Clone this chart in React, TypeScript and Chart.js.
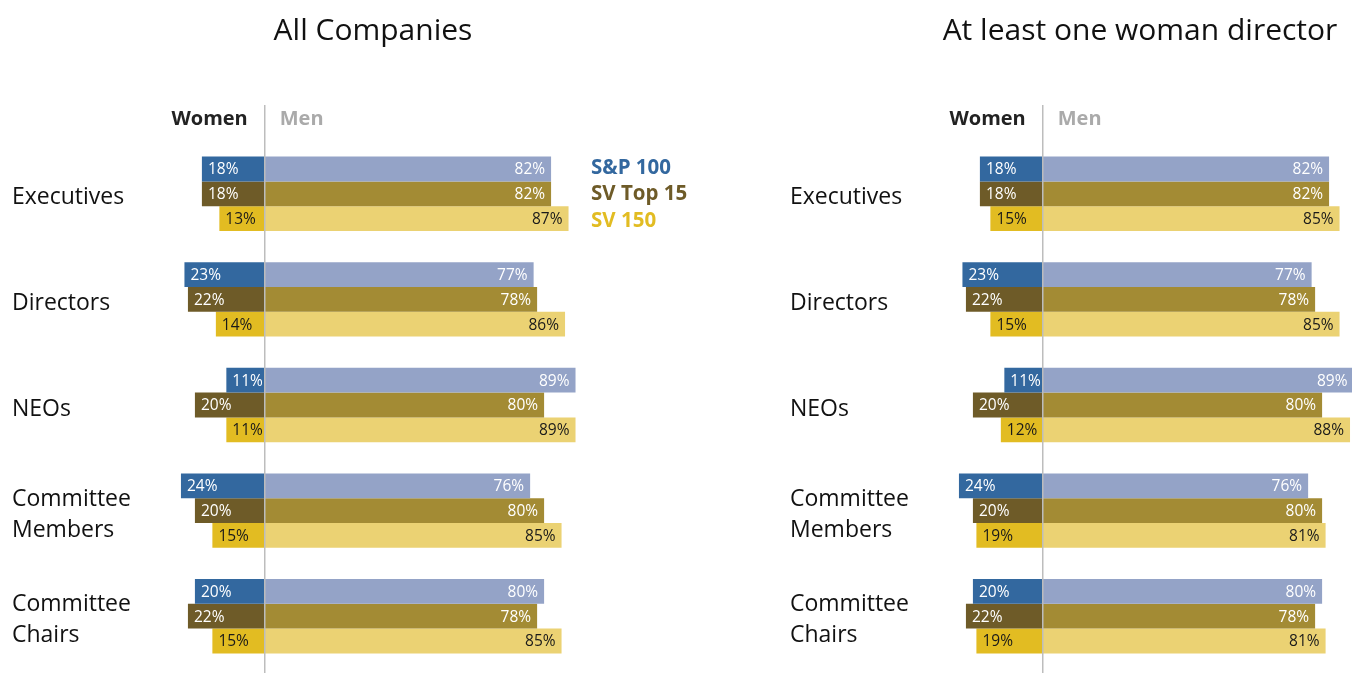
import React, { useEffect, useRef } from "react";
import { Chart, registerables } from "chart.js";

Chart.register(...registerables);

const categories: (string | string[])[] = [
  "Executives",
  "Directors",
  "NEOs",
  ["Committee", "Members"],
  ["Committee", "Chairs"],
];

const seriesNames = ["S&P 100", "SV Top 15", "SV 150"];

// All companies
const spWomenAll = [18, 23, 11, 24, 20];
const spMenAll = [82, 77, 89, 76, 80];
const sv15WomenAll = [18, 22, 20, 20, 22];
const sv15MenAll = [82, 78, 80, 80, 78];
const sv150WomenAll = [13, 14, 11, 15, 15];
const sv150MenAll = [87, 86, 89, 85, 85];

// At least one woman director
const spWomenW = [18, 23, 11, 24, 20];
const spMenW = [82, 77, 89, 76, 80];
const sv15WomenW = [18, 22, 20, 20, 22];
const sv15MenW = [82, 78, 80, 80, 78];
const sv150WomenW = [15, 15, 12, 19, 19];
const sv150MenW = [85, 85, 88, 81, 81];

const womenColors = ["#33689f", "#6e5b28", "#e2bc22"];
const menColors = ["#94a3c7", "#a38b34", "#ebd273"];
const labelColors = ["#ffffff", "#ffffff", "#1a1a1a"];
const legendColors = ["#33689f", "#6e5b28", "#e2bc22"];

const FONT = "'Open Sans', 'Noto Sans', sans-serif";

type PanelProps = {
  title: string;
  titleX: number;
  left: number;
  women: number[][];
  men: number[][];
  showLegend: boolean;
};

function Panel({ title, titleX, left, women, men, showLegend }: PanelProps) {
  const ref = useRef<HTMLCanvasElement | null>(null);

  useEffect(() => {
    if (!ref.current) return;
    const stacks = ["sp", "sv15", "sv150"];
    const datasets: any[] = [];
    for (let s = 0; s < 3; s++) {
      datasets.push({
        label: seriesNames[s] + " Women",
        data: women[s].map((v) => -v),
        backgroundColor: womenColors[s],
        stack: stacks[s],
        borderWidth: 0,
        barPercentage: 1,
        categoryPercentage: 0.705,
        _series: s,
        _side: "w",
      });
      datasets.push({
        label: seriesNames[s] + " Men",
        data: men[s],
        backgroundColor: menColors[s],
        stack: stacks[s],
        borderWidth: 0,
        barPercentage: 1,
        categoryPercentage: 0.705,
        _series: s,
        _side: "m",
      });
    }

    const decor = {
      id: "decor",
      afterDatasetsDraw(chart: any) {
        const ctx = chart.ctx;
        const xs = chart.scales.x;
        const ys = chart.scales.y;
        ctx.save();
        // value labels
        ctx.font = `15.5px ${FONT}`;
        ctx.textBaseline = "middle";
        chart.data.datasets.forEach((ds: any, di: number) => {
          const meta = chart.getDatasetMeta(di);
          meta.data.forEach((el: any, i: number) => {
            const v = Math.abs(ds.data[i]);
            ctx.fillStyle = labelColors[ds._series];
            const txt = v + "%";
            if (ds._side === "w") {
              ctx.textAlign = "left";
              ctx.fillText(txt, Math.min(el.x, el.base) + 6, el.y + 1);
            } else {
              ctx.textAlign = "right";
              ctx.fillText(txt, Math.max(el.x, el.base) - 6, el.y + 1);
            }
          });
        });
        // zero line
        const zx = xs.getPixelForValue(0);
        ctx.strokeStyle = "#bdbdbd";
        ctx.lineWidth = 1.5;
        ctx.beginPath();
        ctx.moveTo(zx, 105);
        ctx.lineTo(zx, chart.height);
        ctx.stroke();
        // category labels
        ctx.fillStyle = "#111";
        ctx.font = `23px ${FONT}`;
        ctx.textAlign = "left";
        categories.forEach((c, i) => {
          const cy = ys.getPixelForValue(i);
          const lines = Array.isArray(c) ? c : [c];
          const lh = 31;
          lines.forEach((ln, li) => {
            const y = cy + (li - (lines.length - 1) / 2) * lh + 4;
            ctx.fillText(ln, 12, y);
          });
        });
        // title
        ctx.font = `30px ${FONT}`;
        ctx.textAlign = "center";
        ctx.fillStyle = "#111";
        ctx.fillText(title, titleX, 31);
        // headers
        ctx.font = `bold 20px ${FONT}`;
        ctx.textAlign = "right";
        ctx.fillStyle = "#222";
        ctx.fillText("Women", zx - 17, 119);
        ctx.textAlign = "left";
        ctx.fillStyle = "#aaaaaa";
        ctx.fillText("Men", zx + 15, 119);
        // legend
        if (showLegend) {
          ctx.font = `bold 20.5px ${FONT}`;
          ctx.textAlign = "left";
          const ly = [168, 194, 221];
          seriesNames.forEach((n, s) => {
            ctx.fillStyle = legendColors[s];
            ctx.fillText(n, 591, ly[s]);
          });
        }
        ctx.restore();
      },
    };

    const chart = new Chart(ref.current, {
      type: "bar",
      data: { labels: categories.map((c) => (Array.isArray(c) ? c.join(" ") : c)), datasets },
      options: {
        indexAxis: "y",
        responsive: false,
        animation: false,
        devicePixelRatio: 1,
        layout: { padding: { left: 160, right: 134, top: 141, bottom: 4 } },
        plugins: { legend: { display: false }, tooltip: { enabled: false }, title: { display: false } },
        scales: {
          x: { display: false, stacked: true, min: -30, max: 92 },
          y: { display: false },
        },
      } as any,
      plugins: [decor],
    });
    return () => chart.destroy();
  }, []);

  return (
    <canvas
      ref={ref}
      width={720}
      height={673}
      style={{ position: "absolute", left, top: 0, width: 720, height: 673 }}
    />
  );
}

export default function App() {
  return (
    <div
      style={{
        position: "absolute",
        left: 0,
        top: 0,
        width: 1352,
        height: 673,
        overflow: "hidden",
        background: "#fff",
      }}
    >
      <Panel
        title="All Companies"
        titleX={373}
        left={0}
        women={[spWomenAll, sv15WomenAll, sv150WomenAll]}
        men={[spMenAll, sv15MenAll, sv150MenAll]}
        showLegend={true}
      />
      <Panel
        title="At least one woman director"
        titleX={362}
        left={778}
        women={[spWomenW, sv15WomenW, sv150WomenW]}
        men={[spMenW, sv15MenW, sv150MenW]}
        showLegend={false}
      />
    </div>
  );
}
